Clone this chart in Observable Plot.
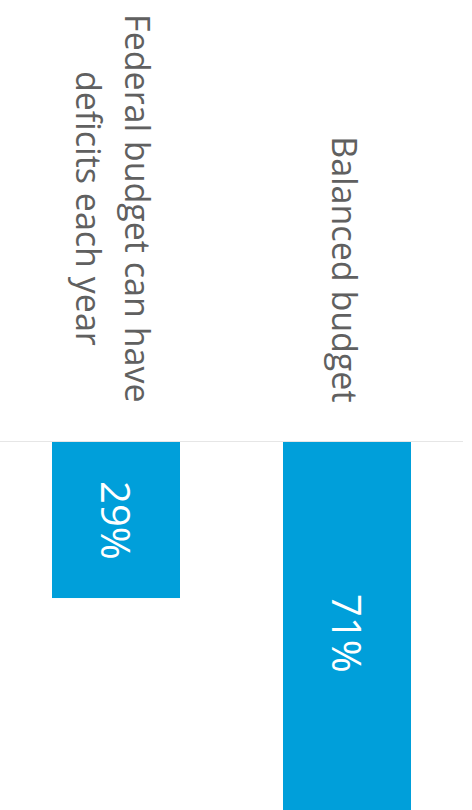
<!DOCTYPE html>
<html><head><meta charset="utf-8">
<script src="https://cdn.jsdelivr.net/npm/d3@7"></script>
<script src="https://cdn.jsdelivr.net/npm/@observablehq/plot@0.6"></script>
<style>
html,body{margin:0;padding:0;background:#fff;overflow:hidden}
svg{display:block}
</style></head><body><div id="chart"></div>
<script>
const categories = ["Federal budget can have\ndeficits each year", "Balanced budget"];
const values = [29, 71];
const valueLabels = ["29%", "71%"];
const data = categories.map((c, i) => ({category: c, value: values[i], label: valueLabels[i]}));

const chart = Plot.plot({
  width: 472, height: 810,
  marginTop: 442, marginBottom: 0, marginLeft: 0, marginRight: 9,
  style: {fontFamily: "'Open Sans', sans-serif", background: "#fff", overflow: "hidden"},
  x: {domain: categories, paddingInner: 0.444, paddingOuter: 0.22, axis: null},
  y: {domain: [0, 68.4], reverse: true, axis: null},
  marks: [
    Plot.barY(data, {x: "category", y: "value", fill: "#009fda", clip: true}),
    Plot.ruleY([0], {stroke: "#e6e6e6", strokeWidth: 1, dy: -1}),
    Plot.text(data, {x: "category", y: d => d.value / 2, text: "label", rotate: 90, fill: "#fff", fontSize: 40, textAnchor: "middle", lineAnchor: "middle"}),
    Plot.text(data, {x: "category", y: () => 0, text: "category", rotate: 90, fill: "#606060", fontSize: 34, textAnchor: "middle", lineAnchor: "middle", lineHeight: 1.47})
  ]
});
document.getElementById("chart").append(chart);
const groups = chart.querySelectorAll('g[aria-label="text"]');
// value labels: nudge slightly toward the bar's visual centre
groups[0].querySelectorAll("text").forEach(t => {
  t.setAttribute("transform", (t.getAttribute("transform") || "") + " translate(0,3)");
});
// category labels: lines centred on each other, block end-aligned above the baseline
groups[groups.length - 1].querySelectorAll("text").forEach(t => {
  const b = t.getBBox();
  const gap = 40;
  t.setAttribute("transform", (t.getAttribute("transform") || "") + ` translate(${-(b.x + b.width) - gap},0)`);
});
</script></body></html>
